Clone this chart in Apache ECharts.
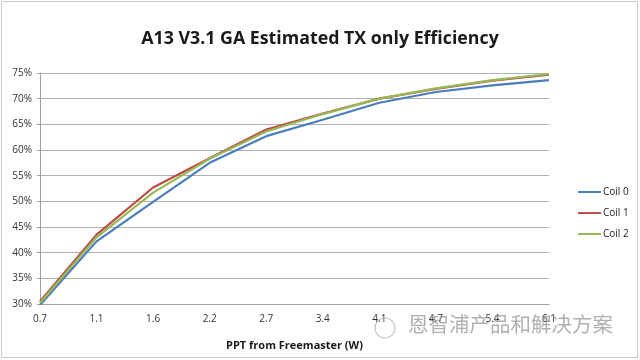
<!DOCTYPE html>
<html>
<head>
<meta charset="utf-8">
<script src="https://cdn.jsdelivr.net/npm/echarts@6/dist/echarts.min.js"></script>
<style>
html,body{margin:0;padding:0;background:#fff;}
#c{width:640px;height:360px;}
</style>
</head>
<body>
<div id="c"></div>
<script>
var categories = ['0.7','1.1','1.6','2.2','2.7','3.4','4.1','4.7','5.4','6.1'];
var coil0 = [29.8, 42.2, 49.9, 57.5, 62.7, 65.9, 69.2, 71.3, 72.6, 73.6];
var coil1 = [30.5, 43.5, 52.7, 58.4, 64.0, 67.1, 70.0, 71.9, 73.5, 74.7];
var coil2 = [30.2, 43.0, 51.7, 58.3, 63.6, 67.0, 70.0, 72.0, 73.6, 74.8];
var seriesNames = ['Coil 0','Coil 1','Coil 2'];
var yTicks = {min: 30, max: 75, interval: 5};

var chart = echarts.init(document.getElementById('c'), null, {renderer:'canvas'});
var font = 'Open Sans, Liberation Sans, sans-serif';
function mk(name, data, color){
  return {name:name, type:'line', data:data, symbol:'none', smooth:false,
    lineStyle:{width:2.2,color:color}, itemStyle:{color:color}};
}
chart.setOption({
  animation:false,
  backgroundColor:'#fff',
  title:{text:'A13 V3.1 GA Estimated TX only Efficiency', left:315, top:25, textAlign:'center',
    textStyle:{fontFamily:font, fontSize:17.8, fontWeight:'bold', color:'#1a1a1a'}},
  grid:{left:40, right:91, top:73, bottom:56},
  legend:{orient:'vertical', left:573, top:182, itemGap:11, itemWidth:23, itemHeight:2,
    icon:'rect', data:seriesNames,
    textStyle:{fontFamily:font, fontSize:10, color:'#222', padding:[0,0,0,-3]}},
  xAxis:{type:'category', data:categories, boundaryGap:false,
    name:'PPT from Freemaster (W)', nameLocation:'middle', nameGap:36,
    nameTextStyle:{fontFamily:font, fontSize:11, fontWeight:'bold', color:'#1a1a1a'},
    axisLine:{lineStyle:{color:'#a0a0a0'}},
    axisTick:{show:false},
    axisLabel:{fontFamily:font, fontSize:10, color:'#333', margin:10},
    splitLine:{show:false}},
  yAxis:{type:'value', min:yTicks.min, max:yTicks.max, interval:yTicks.interval,
    axisLine:{show:true, lineStyle:{color:'#a0a0a0'}},
    axisTick:{show:true, length:3, lineStyle:{color:'#a0a0a0'}},
    axisLabel:{fontFamily:font, fontSize:10, color:'#333', margin:8,
      formatter:function(v){return v+'%';}},
    splitLine:{lineStyle:{color:'#b0b0b0', width:1}}},
  series:[mk(seriesNames[0],coil0,'#4a7ebb'), mk(seriesNames[1],coil1,'#be4b48'), mk(seriesNames[2],coil2,'#98b954')],
  graphic:[
    {type:'rect', shape:{x:1.5,y:1.5,width:636,height:356}, style:{fill:null, stroke:'#c8c8c8', lineWidth:1}, silent:true},
    {type:'text', left:408, top:314, style:{text:'恩智浦产品和解决方案', fontFamily:'Noto Sans CJK SC', fontSize:20.5, fill:'rgba(150,150,150,0.75)'}, z:100},
    {type:'circle', shape:{cx:385, cy:328, r:10}, style:{fill:null, stroke:'rgba(160,160,160,0.6)', lineWidth:1.2}, z:100}
  ]
});
</script>
</body>
</html>
